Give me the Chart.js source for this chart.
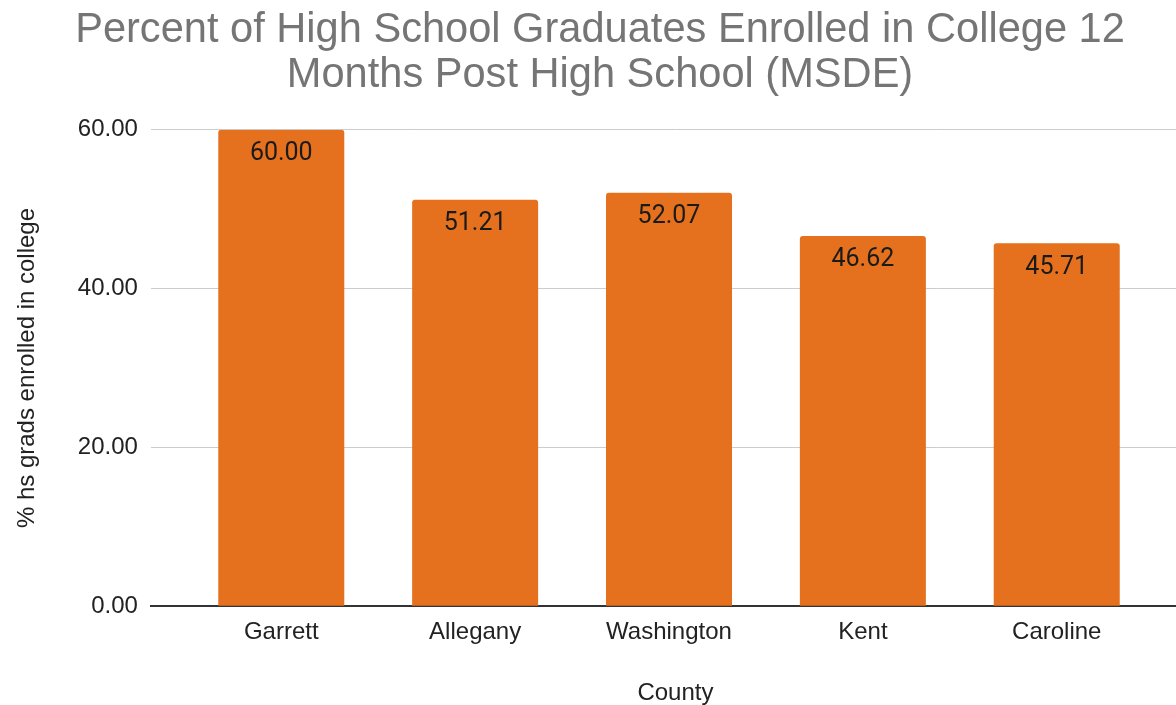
<!DOCTYPE html>
<html>
<head>
<meta charset="utf-8">
<script src="https://cdn.jsdelivr.net/npm/chart.js@4"></script>
<style>
  html, body { margin: 0; padding: 0; background: #fff; overflow: hidden; }
  #wrap { width: 1200px; height: 705px; }
</style>
</head>
<body>
<div id="wrap"><canvas id="grafico"></canvas></div>
<script>
const counties = ['Garrett', 'Allegany', 'Washington', 'Kent', 'Caroline']
const percents = [60.00, 51.21, 52.07, 46.62, 45.71]
const yTicks = [0, 20, 40, 60]

const titulo = ['Percent of High School Graduates Enrolled in College 12', 'Months Post High School (MSDE)']

// label inside the top of each bar
const rotulos = {
  id: 'rotulos',
  afterDatasetsDraw(chart){
    const ctx = chart.ctx
    const meta = chart.getDatasetMeta(0)
    ctx.save()
    ctx.font = '25px Roboto'
    ctx.fillStyle = '#1a1a1a'
    ctx.textAlign = 'center'
    ctx.textBaseline = 'middle'
    meta.data.forEach((bar, i) => {
      ctx.fillText(percents[i].toFixed(2), bar.x, bar.y + 24)
    })
    ctx.restore()
  }
}

new Chart(document.getElementById('grafico'), {
  type: 'bar',
  data: {
    datasets: [{
      label: '% hs grads enrolled in college',
      data: percents.map((v, i) => ({ x: i, y: v })),
      backgroundColor: '#e5711e',
      borderRadius: { topLeft: 3, topRight: 3 },
      borderSkipped: 'start',
      categoryPercentage: 0.65,
      barPercentage: 1
    }]
  },
  options: {
    responsive: true,
    maintainAspectRatio: false,
    animation: false,
    layout: { padding: { left: 0, right: 0, top: 8, bottom: 0 } },
    plugins: {
      legend: { display: false },
      tooltip: { enabled: false },
      title: {
        display: true,
        text: titulo,
        color: '#757575',
        font: { family: 'Liberation Sans', size: 41.6, weight: 'normal', lineHeight: 1.08 },
        padding: { top: 0, bottom: 32 }
      }
    },
    scales: {
      x: {
        type: 'linear',
        min: -0.6727,
        max: 4.739,
        offset: false,
        afterBuildTicks(axis){ axis.ticks = counties.map((c, i) => ({ value: i })) },
        ticks: {
          callback: v => counties[v],
          color: '#222',
          font: { family: 'Liberation Sans', size: 24 },
          padding: 12,
          autoSkip: false,
          maxRotation: 0
        },
        grid: { display: false, drawTicks: false },
        border: { display: true, color: '#333', width: 2 },
        title: {
          display: true,
          text: 'County',
          color: '#222',
          font: { family: 'Liberation Sans', size: 24, lineHeight: 1.0 },
          padding: { top: 22, bottom: 0 }
        }
      },
      y: {
        min: 0,
        max: 60,
        afterBuildTicks(axis){ axis.ticks = yTicks.map(v => ({ value: v })) },
        ticks: {
          callback: v => v.toFixed(2),
          color: '#222',
          font: { family: 'Liberation Sans', size: 24 },
          padding: 13
        },
        grid: { color: '#cccccc', lineWidth: 1, drawTicks: false },
        border: { display: false },
        title: {
          display: true,
          text: '% hs grads enrolled in college',
          color: '#222',
          font: { family: 'Liberation Sans', size: 24 },
          padding: { top: 13, bottom: 23 }
        }
      }
    }
  },
  plugins: [rotulos]
})
</script>
</body>
</html>
